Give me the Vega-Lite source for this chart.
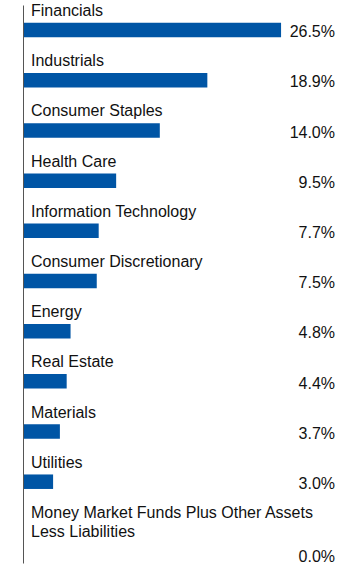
{
  "$schema": "https://vega.github.io/schema/vega-lite/v6.json",
  "autosize": {"type": "none"},
  "width": 311,
  "height": 558,
  "padding": {"left": 24, "top": 5, "right": 25, "bottom": 4},
  "background": "white",
  "config": {"view": {"stroke": null}, "font": "Liberation Sans"},
  "data": {
    "values": [
      {"sector": "Financials", "share": 0.265},
      {"sector": "Industrials", "share": 0.189},
      {"sector": "Consumer Staples", "share": 0.140},
      {"sector": "Health Care", "share": 0.095},
      {"sector": "Information Technology", "share": 0.077},
      {"sector": "Consumer Discretionary", "share": 0.075},
      {"sector": "Energy", "share": 0.048},
      {"sector": "Real Estate", "share": 0.044},
      {"sector": "Materials", "share": 0.037},
      {"sector": "Utilities", "share": 0.030},
      {"sector": "Money Market Funds Plus Other Assets\nLess Liabilities", "share": 0.0}
    ]
  },
  "encoding": {
    "y": {
      "field": "sector",
      "type": "nominal",
      "sort": null,
      "scale": {"paddingInner": 0, "paddingOuter": 0.06, "align": 0, "round": false},
      "axis": {"labels": false, "ticks": false, "grid": false, "title": null, "domain": true, "domainColor": "#555555", "domainWidth": 1, "offset": 1}
    }
  },
  "layer": [
    {
      "mark": {"type": "bar", "height": 14.5, "color": "#0055a5"},
      "encoding": {
        "x": {"field": "share", "type": "quantitative", "scale": {"domain": [0, 0.3206], "nice": false, "zero": true}, "axis": null}
      }
    },
    {
      "mark": {"type": "text", "align": "left", "baseline": "alphabetic", "dx": 7, "dy": -14, "fontSize": 16, "color": "#111111", "lineBreak": "\n", "lineHeight": 19},
      "encoding": {
        "x": {"value": 0},
        "text": {"field": "sector", "type": "nominal"}
      }
    },
    {
      "transform": [{"filter": "datum.share > 0"}],
      "mark": {"type": "text", "align": "right", "baseline": "alphabetic", "dy": 7.2, "fontSize": 16, "color": "#111111"},
      "encoding": {
        "x": {"value": "width"},
        "text": {"field": "share", "type": "quantitative", "format": ".1%"}
      }
    },
    {
      "transform": [{"filter": "datum.share == 0"}],
      "mark": {"type": "text", "align": "right", "baseline": "alphabetic", "dy": 30.2, "fontSize": 16, "color": "#111111"},
      "encoding": {
        "x": {"value": "width"},
        "text": {"field": "share", "type": "quantitative", "format": ".1%"}
      }
    }
  ]
}
